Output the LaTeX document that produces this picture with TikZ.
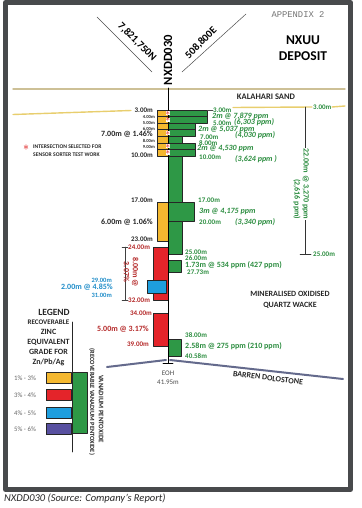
\documentclass[tikz,border=0pt]{standalone}
\usepackage{fontspec}
\setmainfont{Carlito}
\newfontfamily\appfont{Liberation Mono}
\definecolor{barYellow}{RGB}{244,184,48}
\definecolor{barGreen}{RGB}{46,152,70}
\definecolor{barRed}{RGB}{228,36,42}
\definecolor{barBlue}{RGB}{30,158,222}
\definecolor{barPurple}{RGB}{88,80,160}
\definecolor{txtGreen}{RGB}{42,140,62}
\definecolor{txtRed}{RGB}{180,40,40}
\definecolor{txtBlue}{RGB}{30,140,200}
\definecolor{sandLine}{RGB}{232,206,110}
\definecolor{topLine}{RGB}{205,192,150}
\definecolor{rockLine}{RGB}{100,106,140}
\definecolor{frameGray}{RGB}{72,74,76}
\begin{document}
\begin{tikzpicture}[x=1pt,y=-1pt,line join=round,line cap=round,
  declare function={dp(\d)=110+6.55*(\d-3);},
  bar/.style={draw=black!85,line width=.4pt},
  lbl/.style={inner sep=0pt,text=black!85,font=\bfseries\fontsize{8}{9}\selectfont},
  lblS/.style={inner sep=0pt,text=black!85,font=\bfseries\fontsize{7}{8}\selectfont},
  lblT/.style={inner sep=0pt,text=black!85,font=\bfseries\fontsize{4.6}{5}\selectfont},
  ppm/.style={inner sep=0pt,text=txtGreen,font=\bfseries\itshape\fontsize{8}{9}\selectfont},
  hit/.style={text=red!85!black,fill=white,inner sep=.1pt,font=\fontsize{9}{9}\selectfont}]
\useasboundingbox (0,0) rectangle (361,508);
\draw[frameGray,line width=5pt] (5.5,2.5) rectangle (350.5,489.5);
\node[inner sep=0pt,text=black!55,font=\appfont\fontsize{8.8}{9}\selectfont] (app) at (298,15) {APPENDIX 2};
\node[inner sep=0pt,align=center,font=\bfseries\fontsize{13.5}{16}\selectfont] (dep) at (303,48) {NXUU\\DEPOSIT};
\node[inner sep=0pt,rotate=90,font=\bfseries\fontsize{12.6}{13}\selectfont] (hole) at (168,60) {NXDD030};
\path
(168,88) coordinate (collar)
(97,17) coordinate (nw) (152,72) coordinate (nwe)
(246,14) coordinate (ne) (182,72) coordinate (nee)
(168,363) coordinate (eoh);
\draw[black!70,line width=.5pt] (nw)--(nwe) (ne)--(nee);
\node[inner sep=0pt,rotate=-45,font=\bfseries\fontsize{10.5}{11}\selectfont] (north) at (137,42) {7,821,750N};
\node[inner sep=0pt,rotate=45,font=\bfseries\fontsize{10.5}{11}\selectfont] (east) at (201,43) {508,800E};
\draw[topLine,line width=1.4pt] (13,89)--(345,89);
\node[lbl,font=\bfseries\fontsize{8.5}{9}\selectfont] (kal) at (266,97) {KALAHARI SAND};
\draw[sandLine,line width=1.4pt] (13,114.5)--(131,110.5) (233,107.5)--(312,107) (332,107)--(345,106);
\foreach \a/\b/\r in {3/4/207,4/5/207,5/6/195,6/7/195,7/8/182,8/9/195,9/10/195,10/17/182,17/20/194,20/25/182,26/27.73/181,38/40.58/181}
  \draw[bar,fill=barGreen] (168,{dp(\a)}) rectangle (\r,{dp(\b)});
\foreach \a/\b in {3/4,4/5,5/6,6/7,7/8,8/9,9/10,17/23}
  \draw[bar,fill=barYellow] (157,{dp(\a)}) rectangle (168,{dp(\b)});
\foreach \a/\b in {24/32,34/39}
  \draw[bar,fill=barRed] (153,{dp(\a)}) rectangle (168,{dp(\b)});
\draw[bar,fill=barBlue] (147,{dp(29)}) rectangle (166,{dp(31)});
\draw[black,line width=.6pt] (collar)--(eoh) (163,363)--(173,363);
\foreach \d [count=\i] in {3.5,4.5,6.5,8.5,9.5}
  \node[hit] (hit\i) at (168,{dp(\d)}) {$\ast$};
\node[hit,fill=none,font=\fontsize{12}{12}\selectfont] (key) at (26,148) {$\ast$};
\node[lblT,font=\bfseries\fontsize{5.6}{7.5}\selectfont,align=left,anchor=west] (keytxt) at (33,150.5) {INTERSECTION SELECTED FOR\\SENSOR SORTER TEST WORK};
% left side
\foreach \y/\txt [count=\i] in {117/4.00m,123/5.00m,129/6.00m,141/8.00m,147/9.00m}
  \node[lblT,anchor=east] (dl\i) at (155,\y) {\txt};
\foreach \y/\txt [count=\i] in {110/3.00m,155/10.00m,200/17.00m,239/23.00m}
  \node[lblS,anchor=east] (dk\i) at (153,\y) {\txt};
\node[lbl,anchor=east] (zn1) at (153,134) {7.00m @ 1.46\%};
\node[lbl,anchor=east] (zn2) at (153,222) {6.00m @ 1.06\%};
\node[lblS,text=txtRed,anchor=west] (rd1) at (128,247) {24.00m};
\node[lblS,text=txtRed,anchor=west] (rd2) at (128,300) {32.00m};
\node[lblS,text=txtRed,anchor=east] (rd3) at (152,313) {34.00m};
\node[lbl,text=txtRed,anchor=east] (rd4) at (149,329) {5.00m @ 3.17\%};
\node[lblS,text=txtRed,anchor=east] (rd5) at (149,344) {39.00m};
\draw[black!75,line width=.5pt] (122,247)--(128,247) (125,247)--(125,300) (122,300)--(128,300);
\node[lbl,text=txtRed,rotate=-90,align=center] (rd6) at (131,272) {8.00m @\\3.07\%};
\node[lblS,text=txtBlue,anchor=east,font=\bfseries\fontsize{6.5}{7}\selectfont] (bl1) at (112,280) {29.00m};
\node[lbl,text=txtBlue,anchor=east] (bl2) at (113,287) {2.00m @ 4.85\%};
\node[lblS,text=txtBlue,anchor=east,font=\bfseries\fontsize{6.5}{7}\selectfont] (bl3) at (112,295) {31.00m};
% right side
\foreach \x/\y/\txt [count=\i] in {213/110/3.00m,213/123/5.00m,200/137/7.00m,199/143/8.00m,199/157/10.00m,198/200/17.00m,199/222/20.00m,185/252/25.00m,185/258/26.00m,187/272/27.73m,185/335/38.00m,185/356/40.58m,313/107/3.00m,313/254/25.00m}
  \node[lblS,text=txtGreen,anchor=west] (gd\i) at (\x,\y) {\txt};
\draw[black!70,line width=.4pt] (207,110)--(gd1.west);
\foreach \x/\y/\txt [count=\i] in {212/116/{2m @ 7,879 ppm},234/122/{(6,303 ppm)},198/130/{2m @ 5,037 ppm},235/135/{(4,030 ppm)},197/149/{2m @ 4,530 ppm},235/159/{(3,624 ppm )},199/212/{3m @ 4,175 ppm},235/222/{(3,340 ppm)}}
  \node[ppm,anchor=west] (pp\i) at (\x,\y) {\txt};
\node[lbl,text=txtGreen,anchor=west] (v1) at (185,265) {1.73m @ 534 ppm (427 ppm)};
\node[lbl,text=txtGreen,anchor=west] (v2) at (185,346) {2.58m @ 275 ppm (210 ppm)};
\draw[black!80,line width=.5pt] (305,107)--(305,254) (300,254)--(311,254);
\node[lbl,text=txtGreen,rotate=-90,align=right,fill=white,inner sep=1pt] (v3) at (301,184) {22.00m @ 3,270 ppm\\(2,616 ppm)};
\node[lbl,align=center,font=\bfseries\fontsize{8}{11}\selectfont] (mow) at (290,300) {MINERALISED OXIDISED\\QUARTZ WACKE};
\draw[rockLine,line width=2pt] (107,367)--(166,360) (170,360)--(343,379);
\node[lbl,rotate=-7] (bar) at (268,378) {BARREN DOLOSTONE};
\node[inner sep=0pt,text=black!70,font=\fontsize{7}{8}\selectfont] (eohA) at (168,373) {EOH};
\node[inner sep=0pt,text=black!70,font=\fontsize{7}{8}\selectfont] (eohB) at (168,382) {41.95m};
% legend
\node[lbl,font=\bfseries\fontsize{9.5}{10}\selectfont] (leg) at (54,312) {LEGEND};
\node[lbl,font=\bfseries\fontsize{7}{8}\selectfont] (leg1) at (48.5,322) {RECOVERABLE};
\foreach \y/\txt [count=\i] in {332/ZINC,342/EQUIVALENT,352/GRADE FOR,362/{Zn/Pb/Ag}}
  \node[lbl] (lgt\i) at (48.5,\y) {\txt};
\foreach \c/\y/\txt [count=\i] in {barYellow/372/1\% - 3\%,barRed/389/3\% - 4\%,barBlue/407/4\% - 5\%,barPurple/423/5\% - 6\%}
  {\draw[bar,fill=\c] (46,\y) rectangle (71,\y+11.5);
   \node[inner sep=0pt,text=black!60,font=\fontsize{6.8}{7}\selectfont] (lg\i) at (25,\y+6) {\txt};}
\draw[bar,fill=barGreen] (72,372) rectangle (87,433);
\draw[black!85,line width=.6pt] (72,322)--(72,452);
\node[lbl,rotate=-90,font=\bfseries\fontsize{6.9}{7}\selectfont] (van1) at (101,409) {VANADIUM PENTOXIDE};
\node[lbl,rotate=-90,font=\bfseries\fontsize{6.4}{7}\selectfont] (van2) at (92,402) {(RECOVERABLE VANADIUM PENTOXIDE)};
\node[inner sep=0pt,anchor=west,text=black!85,font=\itshape\fontsize{10.5}{11}\selectfont] (cap) at (4,499) {NXDD030 (Source: Company’s Report)};
\end{tikzpicture}
\end{document}
